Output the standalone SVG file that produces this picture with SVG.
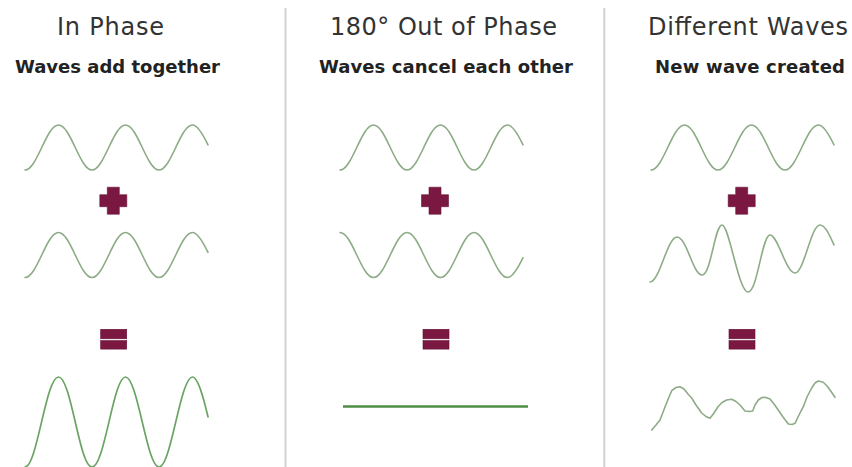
<svg xmlns="http://www.w3.org/2000/svg" xmlns:xlink="http://www.w3.org/1999/xlink" width="852" height="467" viewBox="0 0 852 467">
<style>
.title{font-family:"DejaVu Sans",Verdana,sans-serif;font-size:24px;fill:#333333}
.sub{font-family:"DejaVu Sans",Verdana,sans-serif;font-size:18px;font-weight:bold;fill:#222222}
.wave{fill:none;stroke:#8dab86;stroke-width:1.6;stroke-linejoin:round;stroke-linecap:round}
.wave2{fill:none;stroke:#6aa463;stroke-width:1.7;stroke-linecap:round}
.op{fill:#7b1842;stroke:#661035;stroke-width:0.6}
.div{stroke:#d2d2d2;stroke-width:2}
</style>
<defs>
<path id="sine" d="M0,22.5 C12.2,22.5 21.3,-22.5 33.5,-22.5 S54.8,22.5 67,22.5 S88.3,-22.5 100.5,-22.5 S121.8,22.5 134,22.5 S155.3,-22.5 167.5,-22.5 C172.7,-22.5 177.8,-13.4 183,-2.6"/>
<path id="plus" d="M-6,-13.5 H6 V-6 H13.5 V6 H6 V13.5 H-6 V6 H-13.5 V-6 H-6 Z"/>
<g id="equals">
<rect x="-13" y="-11" width="26" height="9.5"/>
<rect x="-13" y="0.3" width="26" height="8.5"/>
</g>
</defs>
<rect width="852" height="467" fill="#ffffff"/>
<g id="dividers">
<line class="div" x1="285.5" y1="8" x2="285.5" y2="467"/>
<line class="div" x1="604.3" y1="8" x2="604.3" y2="467"/>
</g>
<g id="in-phase">
<text class="title" x="57" y="35" textLength="107" lengthAdjust="spacing">In Phase</text>
<text class="sub" x="15" y="73" textLength="205" lengthAdjust="spacing">Waves add together</text>
<use xlink:href="#sine" class="wave" transform="translate(25,147.5)"/>
<use xlink:href="#plus" class="op" transform="translate(113.3,200.7)"/>
<use xlink:href="#sine" class="wave" transform="translate(25,255)"/>
<use xlink:href="#equals" class="op" transform="translate(113.7,340.3)"/>
<path class="wave2" d="M25,467 C37.2,467 45.8,377 58.5,377 S79.3,467 92,467 S113.3,377 125.5,377 S146.8,467 159,467 S180.3,377 192.5,377 C197.7,377 202.8,395 208,416.8"/>
</g>
<g id="out-of-phase">
<text class="title" x="330" y="35" textLength="227" lengthAdjust="spacing">180° Out of Phase</text>
<text class="sub" x="319" y="73" textLength="254" lengthAdjust="spacing">Waves cancel each other</text>
<use xlink:href="#sine" class="wave" transform="translate(340,147.5)"/>
<use xlink:href="#plus" class="op" transform="translate(435,200.7)"/>
<use xlink:href="#sine" class="wave" transform="translate(340,255) scale(1,-1)"/>
<use xlink:href="#equals" class="op" transform="translate(436,340.3)"/>
<line x1="343" y1="406.5" x2="528" y2="406.5" stroke="#4f8c46" stroke-width="2.4"/>
</g>
<g id="different-waves">
<text class="title" x="648" y="35" textLength="200" lengthAdjust="spacing">Different Waves</text>
<text class="sub" x="655" y="73" textLength="190" lengthAdjust="spacing">New wave created</text>
<use xlink:href="#sine" class="wave" transform="translate(651,147.5)"/>
<use xlink:href="#plus" class="op" transform="translate(741.7,200.7)"/>
<path class="wave" d="M650,282 C659.8,282 667.2,237 677,237 S692.9,275 702,275 S714.7,225 722,225 S738.5,292 748,292 S762,235 770,235 S785.9,273 795,273 S810.9,225 820,225 C825,225 829,234 834,245"/>
<use xlink:href="#equals" class="op" transform="translate(742,340.3)"/>
<polyline class="wave" points="651.7,430 656,425 660,420 665,407 669,397 671.7,390.7 676,387.5 680,386.7 684,389 688,394 691.7,398 696,405 701.7,413 706,416.5 710,418.3 714,413 718,406.7 722,402.5 726.7,400 731.7,399.3 736,401.5 740,405 745,411 749,411.5 752.7,411 755,405 758.3,400 762,397.5 765,397.3 770,399 774,404 778.3,410 783,417 788.3,424 792,424.5 795,423.3 799,415 803.3,406.7 807,397 811.7,388 815,383 818.3,381 823.3,382.3 827,386 830,390 835,397.3"/>
</g>
</svg>
